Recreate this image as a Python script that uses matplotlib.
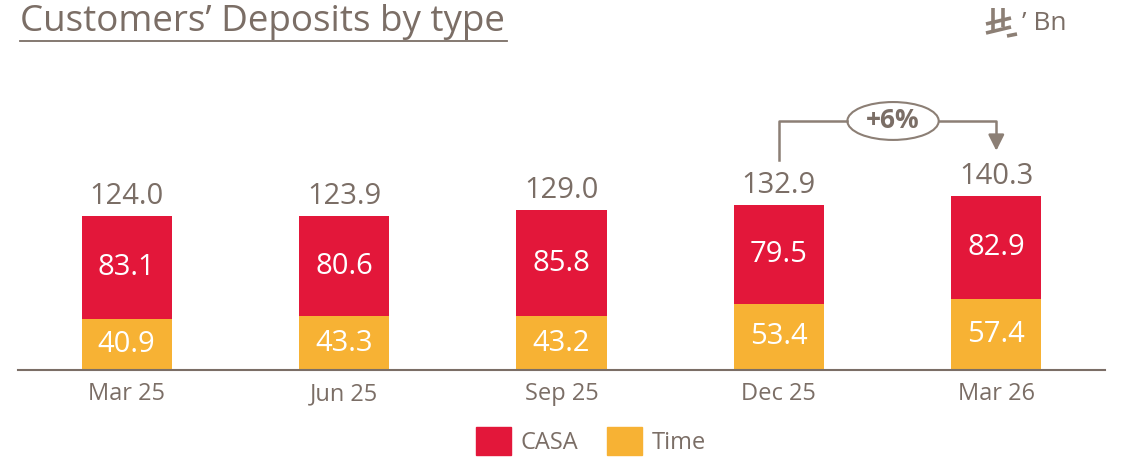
import matplotlib.pyplot as plt
from matplotlib.patches import Ellipse
from matplotlib.lines import Line2D

plt.rcParams['font.family'] = ['Open Sans', 'DejaVu Sans']

quarters = ["Mar 25", "Jun 25", "Sep 25", "Dec 25", "Mar 26"]
time_dep = [40.9, 43.3, 43.2, 53.4, 57.4]
casa = [83.1, 80.6, 85.8, 79.5, 82.9]
totals = [124.0, 123.9, 129.0, 132.9, 140.3]
growth = "+6%"

red = '#E3173A'
amber = '#F7B234'
grey = '#7B6E66'
line_grey = '#8C7F75'

fig = plt.figure(figsize=(11.25, 4.57), dpi=100)
ax = fig.add_axes([18 / 1125, 87 / 457, 1087 / 1125, 310 / 457])

x = range(len(quarters))
w = 0.414
ax.bar(x, time_dep, width=w, color=amber)
ax.bar(x, casa, width=w, bottom=time_dep, color=red)

for i in x:
    ax.text(i, time_dep[i] / 2, f"{time_dep[i]:.1f}", ha='center', va='center',
            color='white', fontsize=21)
    ax.text(i, time_dep[i] + casa[i] / 2, f"{casa[i]:.1f}", ha='center', va='center',
            color='white', fontsize=21)
    ax.text(i, totals[i] + 4, f"{totals[i]:.1f}", ha='center', va='bottom',
            color=grey, fontsize=21)

ax.set_xlim(-0.5, 4.5)
ax.set_ylim(0, 249.6)
ax.set_xticks(list(x))
ax.set_xticklabels(quarters, fontsize=17, color=grey)
ax.tick_params(axis='x', length=0, pad=9)
ax.set_yticks([])
for s in ['top', 'right', 'left']:
    ax.spines[s].set_visible(False)
ax.spines['bottom'].set_color(grey)
ax.spines['bottom'].set_linewidth(1.5)

# growth annotation between Dec 25 and Mar 26
y_top = 200.5
ex = 3.525
ax.plot([3, 3, ex - 0.21], [totals[3] + 36, y_top, y_top], color=line_grey, lw=1.8,
        clip_on=False)
ax.plot([ex + 0.21, 4, 4], [y_top, y_top, totals[4] + 40], color=line_grey, lw=1.8,
        clip_on=False)
ax.annotate('', xy=(4, totals[4] + 34), xytext=(4, totals[4] + 46),
            arrowprops=dict(arrowstyle='-|>', color=line_grey, lw=1.8,
                            mutation_scale=24), annotation_clip=False)
ax.add_patch(Ellipse((ex, y_top), 0.42, 30.5, facecolor='white',
                     edgecolor=line_grey, lw=1.5, clip_on=False))
ax.text(ex, y_top, growth, ha='center', va='center', color=grey, fontsize=19,
        fontweight='bold')

# title
fig.text(20 / 1125, 1 - 22 / 457, "Customers’ Deposits by type", ha='left',
         va='center', fontsize=26.5, color=grey)
fig.add_artist(Line2D([20 / 1125, 507 / 1125], [1 - 41 / 457, 1 - 41 / 457],
                      color=grey, lw=1.3))

# currency unit (riyal symbol drawn as strokes)
def px(xp, yp):
    return xp / 1125, 1 - yp / 457

for (x0, y0), (x1, y1) in [((993, 8), (993, 30)), ((1003, 8), (1003, 27)),
                           ((986, 24), (1011, 18)), ((986, 33), (1011, 27)),
                           ((1007, 36), (1017, 34))]:
    a, b = px(x0, y0)
    c, d = px(x1, y1)
    fig.add_artist(Line2D([a, c], [b, d], color=line_grey, lw=2.6,
                          solid_capstyle='butt'))
fig.text(1022 / 1125, 1 - 24 / 457, "’ Bn", ha='left', va='center', fontsize=19,
         color=grey)

# legend
handles = [plt.Rectangle((0, 0), 1, 1, color=red),
           plt.Rectangle((0, 0), 1, 1, color=amber)]
fig.legend(handles, ["CASA", "Time"], loc='center', bbox_to_anchor=(0.525, 1 - 441 / 457),
           ncol=2, frameon=False, fontsize=17, handlelength=1.5, handleheight=1.4,
           columnspacing=1.2, handletextpad=0.4, labelcolor=grey)

fig.savefig("out.png", dpi=100)
